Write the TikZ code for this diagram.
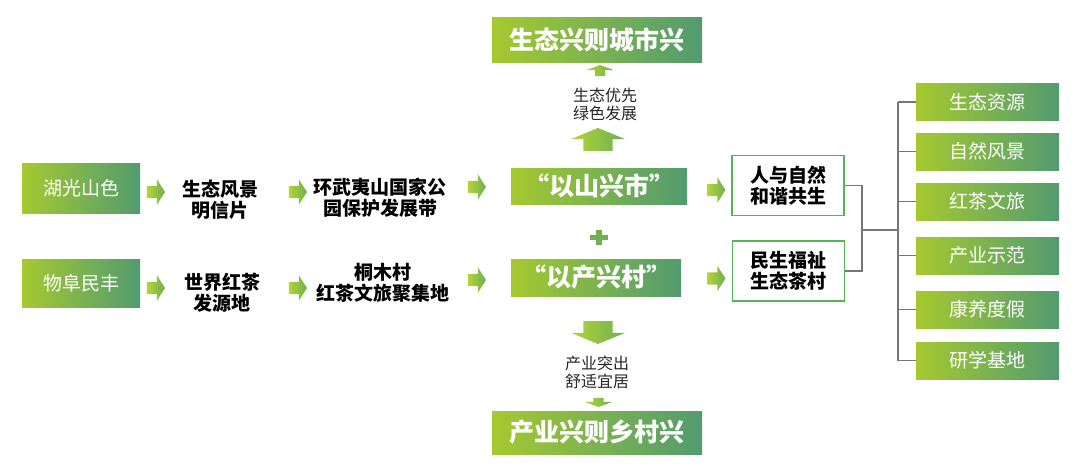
\documentclass[tikz,border=0pt]{standalone}
\usepackage{fontspec}
\setmainfont{Noto Sans CJK SC}
\usetikzlibrary{shapes,shapes.arrows,positioning}
\definecolor{leafyl}{RGB}{166,201,48}
\definecolor{leafgr}{RGB}{82,155,112}
\definecolor{tipyl}{RGB}{180,212,58}
\definecolor{tipgr}{RGB}{108,176,80}
\definecolor{rimgr}{RGB}{86,180,88}
\definecolor{linkgr}{RGB}{118,118,118}

\begin{document}
\begin{tikzpicture}[x=1pt,y=-1pt,
      every node/.append style={inner sep=0pt,align=center},
      grad/.style={left color=leafyl,right color=leafgr,text=white},
      mid/.style={font=\fontsize{19}{21}\selectfont},
      big/.style={font=\fontsize{25}{27}\selectfont\bfseries},
      word/.style={font=\fontsize{19}{21}\selectfont\bfseries},
      note/.style={font=\fontsize{16}{18}\selectfont,text=black!85},
      rim/.style={draw=rimgr,line width=1.3pt,fill=white,minimum width=112pt,minimum height=60pt,font=\fontsize{19}{21}\selectfont\bfseries},
      tip/.style={single arrow,left color=tipyl,right color=tipgr,text width=0pt},
      rtip/.style={tip,text height=12pt,text depth=0pt,minimum height=18pt,minimum width=25pt,single arrow head extend=6.5pt,single arrow tip angle=115},
      btip/.style={tip,text height=29pt,text depth=0pt,minimum height=23pt,minimum width=53pt,single arrow head extend=12pt,single arrow tip angle=135},
      stip/.style={tip,text height=10pt,text depth=0pt,minimum height=#1,minimum width=27pt,single arrow head extend=8.5pt,single arrow tip angle=140},
      link/.style={draw=linkgr,line width=1.1pt}]
    \useasboundingbox (0,0) rectangle (1080,474);
    % left column
    \node[grad,mid,minimum width=118pt,minimum height=50pt] (hu) at (81,188) {湖光山色};
    \node[grad,mid,minimum width=118pt,minimum height=48pt] (wu) at (81,283.5) {物阜民丰};
    \node[rtip] (a1) at (154,192) {};
    \node[rtip] (a2) at (296,192) {};
    \node[rtip] (a3) at (475,187) {};
    \node[rtip] (a4) at (154,288) {};
    \node[rtip] (a5) at (296,288) {};
    \node[rtip] (a6) at (475,280) {};
    \node[word] (pc) at (220,200) {生态风景\\明信片};
    \node[word] (nb) at (380,198) {环武夷山国家公\\园保护发展带};
    \node[word] (yd) at (222,293) {世界红茶\\发源地};
    \node[word] (tm) at (383,283) {桐木村\\红茶文旅聚集地};
    % centre column
    \node[grad,big,minimum width=210pt,minimum height=45pt] (cs) at (597,39.5) {生态兴则城市兴};
    \node[stip=11pt,rotate=90] (u1) at (600,71.5) {};
    \node[note] (gr) at (605,104) {生态优先\\绿色发展};
    \node[btip,rotate=90] (u2) at (598,142.5) {};
    \node[grad,big,minimum width=176pt,minimum height=36pt] (ys) at (599,186) {“以山兴市”};
    \fill[tipgr] (599,237.5) +(-9,-2.6) rectangle +(9,2.6);
    \fill[tipgr] (599,237.5) +(-2.8,-7.5) rectangle +(2.8,7.5);
    \node[grad,big,minimum width=170pt,minimum height=37pt] (yc) at (596,277.5) {“以产兴村”};
    \node[btip,rotate=-90] (d1) at (598,329.5) {};
    \node[note] (sy) at (597,372.5) {产业突出\\舒适宜居};
    \node[stip=9pt,rotate=-90,minimum width=25pt] (d2) at (598.5,401.5) {};
    \node[grad,big,minimum width=210pt,minimum height=43pt] (xc) at (597,432.5) {产业兴则乡村兴};
    % right column
    \node[rtip] (a7) at (714.5,190) {};
    \node[rtip] (a8) at (714.5,278.5) {};
    \node[rim] (rz) at (788,185.5) {人与自然\\和谐共生};
    \node[rim] (mf) at (788.5,271) {民生福祉\\生态茶村};
    \foreach \t/\y [count=\i] in {生态资源/102,自然风景/151.5,红茶文旅/201.5,产业示范/255.5,康养度假/309.5,研学基地/360.5}
      \node[grad,mid,minimum width=143pt,minimum height=37pt] (r\i) at (987.5,\y) {\t};
    \coordinate (jx) at (862,230);
    \coordinate (sp) at (898,230);
    \draw[link] (rz.east) -| (jx) |- (mf.east);
    \draw[link] (jx) -- (sp);
    \draw[link] (r1.west -| sp) -- (r6.west -| sp);
    \foreach \i in {1,...,6}
      \draw[link] (r\i.west -| sp) -- (r\i.west);
\end{tikzpicture}
\end{document}
